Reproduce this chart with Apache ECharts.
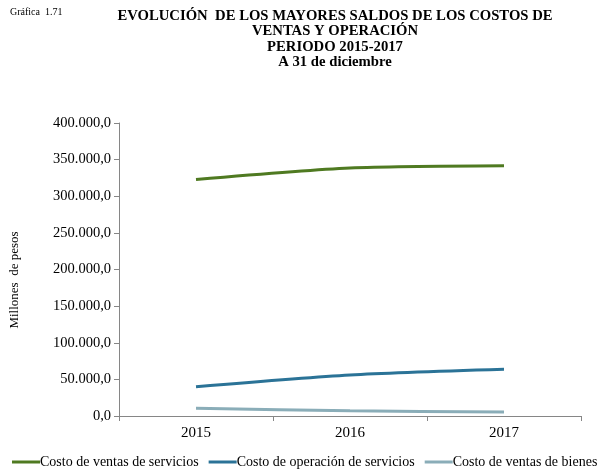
<!DOCTYPE html>
<html>
<head>
<meta charset="utf-8">
<script src="https://cdn.jsdelivr.net/npm/echarts@6/dist/echarts.min.js"></script>
<style>
  html, body { margin: 0; padding: 0; background: #fff; }
  #chart { width: 600px; height: 474px; }
</style>
</head>
<body>
<div id="chart"></div>
<script>
// Years on the category axis
const years = ['2015', '2016', '2017'];

// Balances in millions of pesos
const costoVentasServicios = [323000, 338700, 341800];
const costoOperacionServicios = [40000, 56000, 63800];
const costoVentasBienes = [10500, 7100, 5500];

const seriesNames = [
  'Costo de ventas de servicios',
  'Costo de operación de servicios',
  'Costo de ventas de bienes'
];
const seriesColors = ['#4f7a21', '#2b7397', '#8aadb8'];

const FONT = '"Liberation Serif", "Times New Roman", serif';

// 400.000,0 style: dot for thousands, comma for decimals
function fmt(v) {
  const parts = v.toFixed(1).split('.');
  const intPart = parts[0].replace(/\B(?=(\d{3})+(?!\d))/g, '.');
  return intPart + ',' + parts[1];
}

const chart = echarts.init(document.getElementById('chart'), null, { renderer: 'canvas' });

const dataSets = [costoVentasServicios, costoOperacionServicios, costoVentasBienes];

chart.setOption({
  backgroundColor: '#ffffff',
  animation: false,
  graphic: [
    {
      type: 'text', left: 10, top: 7,
      style: { text: 'Gráfica  1.71', font: '10px ' + FONT, fill: '#000' }
    },
    {
      type: 'text', x: 335, y: 8.5,
      style: {
        text: 'EVOLUCIÓN  DE LOS MAYORES SALDOS DE LOS COSTOS DE\nVENTAS Y OPERACIÓN\nPERIODO 2015-2017\nA 31 de diciembre',
        font: 'bold 14.7px ' + FONT, fill: '#000', align: 'center', lineHeight: 15.3
      }
    },
    {
      type: 'text', x: 15, y: 280, rotation: Math.PI / 2,
      style: {
        text: 'Millones  de pesos',
        font: '13px ' + FONT, fill: '#000', align: 'center', verticalAlign: 'middle'
      }
    }
  ],
  grid: { left: 119, right: 19, top: 123, bottom: 58, containLabel: false, outerBoundsMode: 'none' },
  legend: {
    top: 455, left: 12, width: 590, padding: 0,
    itemWidth: 28, itemHeight: 3, itemGap: 10,
    icon: 'rect',
    textStyle: { fontFamily: FONT, fontSize: 14, color: '#000', padding: [0, 0, 0, -5] },
    data: seriesNames
  },
  xAxis: {
    type: 'category',
    data: years,
    boundaryGap: true,
    axisLine: { lineStyle: { color: '#868686', width: 1 } },
    axisTick: { show: true, alignWithLabel: false, length: 5, lineStyle: { color: '#868686' } },
    axisLabel: { fontFamily: FONT, fontSize: 15, color: '#000', margin: 10 }
  },
  yAxis: {
    type: 'value',
    min: 0, max: 400000, interval: 50000,
    axisLine: { show: true, lineStyle: { color: '#868686', width: 1 } },
    axisTick: { show: true, length: 5, lineStyle: { color: '#868686' } },
    splitLine: { show: false },
    axisLabel: { fontFamily: FONT, fontSize: 14.5, color: '#000', margin: 8, formatter: fmt }
  },
  series: dataSets.map((d, i) => ({
    name: seriesNames[i],
    type: 'line',
    data: d,
    symbol: 'none',
    smooth: 0.25,
    lineStyle: { color: seriesColors[i], width: 3 },
    itemStyle: { color: seriesColors[i] }
  }))
});
</script>
</body>
</html>
